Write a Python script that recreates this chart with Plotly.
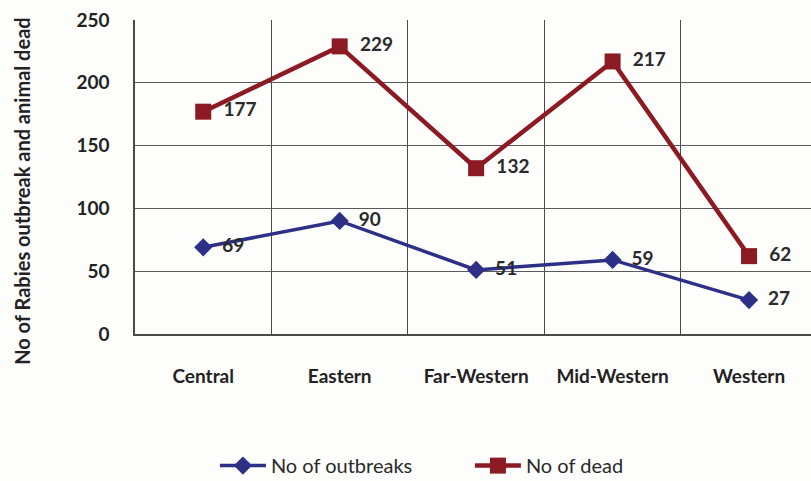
import plotly.graph_objects as go

regions = ["Central", "Eastern", "Far-Western", "Mid-Western", "Western"]
outbreaks = [69, 90, 51, 59, 27]
dead = [177, 229, 132, 217, 62]
y_ticks = [0, 50, 100, 150, 200, 250]
y_title = "No of Rabies outbreak and animal dead"

BLUE = "#2e2f86"
RED = "#8c1a22"
FONT = "Lato"

fig = go.Figure()

fig.add_trace(go.Scatter(
    x=regions, y=outbreaks, name="No of outbreaks",
    mode="lines+markers+text",
    line=dict(color=BLUE, width=3.5),
    marker=dict(symbol="diamond", size=14, color=BLUE),
    text=["  " + str(v) for v in outbreaks],
    textposition="middle right",
    textfont=dict(family=FONT, size=19, color="#2a2a2a", weight="bold"),
    cliponaxis=False,
))

fig.add_trace(go.Scatter(
    x=regions, y=dead, name="No of dead",
    mode="lines+markers+text",
    line=dict(color=RED, width=4.5),
    marker=dict(symbol="square", size=16, color=RED),
    text=["  " + str(v) for v in dead],
    textposition="middle right",
    textfont=dict(family=FONT, size=19, color="#2a2a2a", weight="bold"),
    cliponaxis=False,
))

# rotated y-axis title placed as an annotation for exact positioning
fig.add_annotation(
    text=y_title, textangle=-90,
    xref="paper", yref="paper", x=-0.1676, y=0.455,
    xanchor="center", yanchor="middle", showarrow=False,
    font=dict(family=FONT, size=20, color="#222222", weight="bold"),
)

fig.update_layout(
    width=811, height=481,
    margin=dict(l=135, r=0, t=20, b=147, autoexpand=False),
    paper_bgcolor="#fdfdfc",
    plot_bgcolor="#fdfdfc",
    font=dict(family=FONT, color="#222222"),
    showlegend=True,
    legend=dict(
        orientation="h", xref="container", yref="container",
        x=0.265, y=0.032, xanchor="left", yanchor="middle",
        font=dict(family=FONT, size=20, color="#2a2a2a"),
        itemwidth=46, entrywidth=194, bgcolor="rgba(0,0,0,0)",
    ),
    xaxis=dict(
        type="category",
        range=[-0.5, 4.454],
        tickson="boundaries",
        showgrid=True, gridcolor="#4a4a4a", gridwidth=1.2,
        ticks="", ticklabelstandoff=24,
        tickfont=dict(family=FONT, size=19, color="#222222", weight="bold"),
        showline=True, linecolor="#4a4a4a", linewidth=1.5,
        zeroline=False,
    ),
    yaxis=dict(
        range=[0, 250],
        tickvals=y_ticks,
        showgrid=True, gridcolor="#5a5a5a", gridwidth=1.3,
        ticks="", ticklabelstandoff=20,
        tickfont=dict(family=FONT, size=19, color="#222222", weight="bold"),
        showline=True, linecolor="#4a4a4a", linewidth=1.5,
        zeroline=False,
        automargin=False,
    ),
)

fig.write_html("out.html")
